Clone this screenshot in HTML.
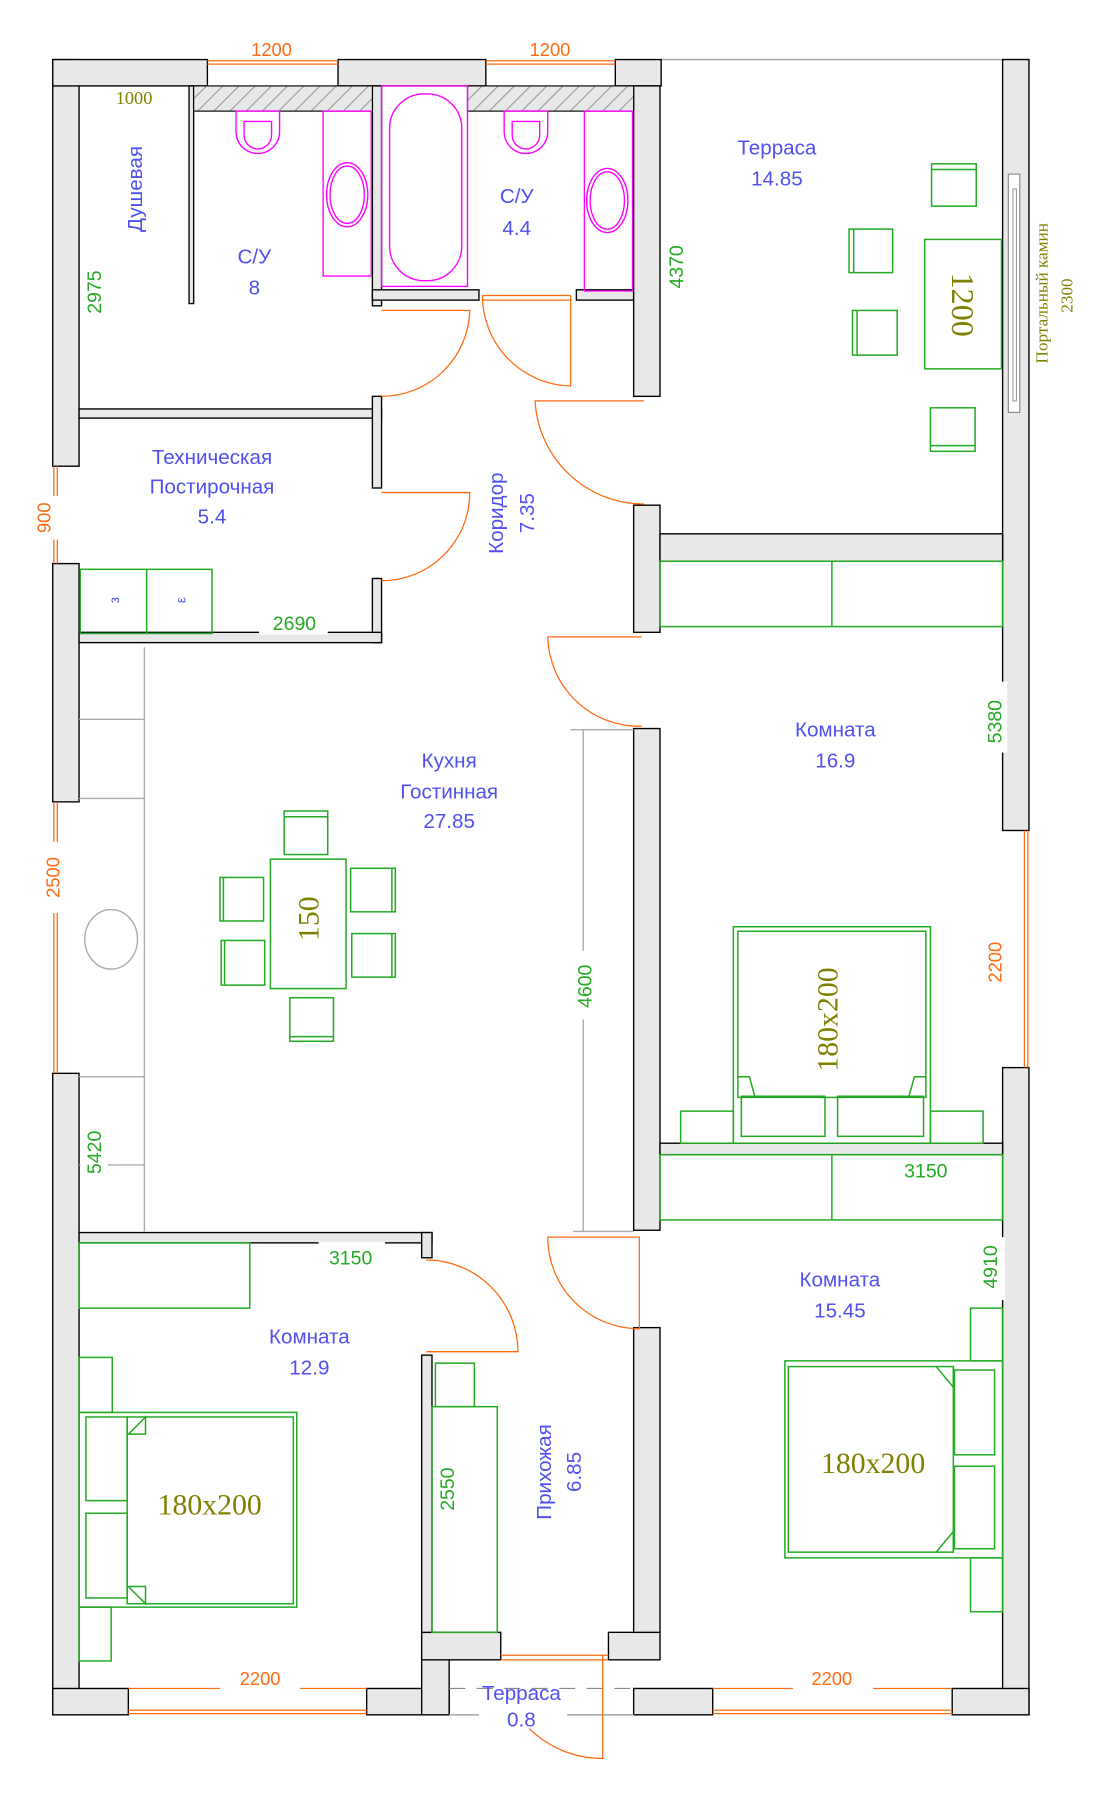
<!DOCTYPE html>
<html><head><meta charset="utf-8"><style>
html,body{margin:0;padding:0;background:#fff;}
svg{display:block;}
.lab{font-family:"Liberation Sans",sans-serif;fill:#5050f0;font-size:18px;text-anchor:middle;}
.g{font-family:"Liberation Sans",sans-serif;fill:#22aa22;font-size:17px;text-anchor:middle;}
.o{font-family:"Liberation Sans",sans-serif;fill:#ff6a10;font-size:16px;text-anchor:middle;}
.ol{font-family:"Liberation Serif",serif;fill:#808000;text-anchor:middle;}
.w{fill:#e8e8e8;stroke:#000;stroke-width:1.2;}
.f{fill:none;stroke:#22aa22;stroke-width:1.3;}
.m{fill:none;stroke:#ff00ff;stroke-width:1.2;}
.d{fill:none;stroke:#ff6a10;stroke-width:1.1;}
</style></head><body>
<svg width="1100" height="1795" viewBox="0 0 960 1567" preserveAspectRatio="none" xmlns="http://www.w3.org/2000/svg">
<defs>
<pattern id="h" width="10" height="10" patternUnits="userSpaceOnUse" patternTransform="rotate(45)">
<rect width="10" height="10" fill="#e8e8e8"/><line x1="0" y1="0" x2="0" y2="10" stroke="#999" stroke-width="2"/></pattern>
</defs>
<line x1="577" y1="52" x2="898" y2="52" stroke="#aaa" stroke-width="1.5"/>
<rect class="w" x="46" y="52" width="23" height="355"/>
<rect class="w" x="46" y="492" width="23" height="208"/>
<rect class="w" x="46" y="937" width="23" height="560"/>
<rect class="w" x="46" y="52" width="135" height="23"/>
<rect class="w" x="295" y="52" width="129" height="23"/>
<rect class="w" x="537" y="52" width="40" height="23"/>
<rect class="w" x="875" y="52" width="23" height="673"/>
<rect class="w" x="875" y="932" width="23" height="565"/>
<rect class="w" x="46" y="1474" width="66" height="23"/>
<rect class="w" x="320" y="1474" width="72" height="23"/>
<rect class="w" x="553" y="1474" width="69" height="23"/>
<rect class="w" x="831" y="1474" width="67" height="23"/>
<rect class="w" x="368" y="1425" width="24" height="72"/>
<rect class="w" x="368" y="1425" width="69" height="24"/>
<rect class="w" x="531" y="1425" width="45" height="24"/>
<g class="d">
<line x1="181" y1="53" x2="295" y2="53"/><line x1="181" y1="56" x2="295" y2="56"/>
<line x1="424" y1="53" x2="537" y2="53"/><line x1="424" y1="56" x2="537" y2="56"/>
<line x1="47" y1="407" x2="47" y2="492"/><line x1="50" y1="407" x2="50" y2="492"/>
<line x1="47" y1="700" x2="47" y2="937"/><line x1="50" y1="700" x2="50" y2="937"/>
<line x1="894" y1="725" x2="894" y2="932"/><line x1="897" y1="725" x2="897" y2="932"/>
<line x1="112" y1="1493" x2="320" y2="1493"/><line x1="112" y1="1496" x2="320" y2="1496"/>
<line x1="622" y1="1493" x2="831" y2="1493"/><line x1="622" y1="1496" x2="831" y2="1496"/>
<line x1="437" y1="1445" x2="531" y2="1445"/><line x1="437" y1="1449" x2="531" y2="1449"/>
</g>
<line x1="112" y1="1474" x2="192" y2="1474" stroke="#ff6a10"/><line x1="262" y1="1474" x2="320" y2="1474" stroke="#ff6a10"/>
<line x1="622" y1="1474" x2="692" y2="1474" stroke="#ff6a10"/><line x1="762" y1="1474" x2="831" y2="1474" stroke="#ff6a10"/>
<line x1="392" y1="1474" x2="553" y2="1474" stroke="#888" stroke-dasharray="14,10"/>
<line x1="392" y1="1497" x2="418" y2="1497" stroke="#aaa" stroke-width="1.5"/><line x1="495" y1="1497" x2="553" y2="1497" stroke="#aaa" stroke-width="1.5"/>
<rect class="w" x="165" y="75" width="4" height="190"/>
<rect class="w" x="325" y="75" width="8" height="192"/>
<rect class="w" x="325" y="253" width="93" height="9"/>
<rect class="w" x="503" y="253" width="50" height="9"/>
<rect class="w" x="69" y="357" width="264" height="8"/>
<rect class="w" x="325" y="346" width="8" height="80"/>
<rect class="w" x="325" y="505" width="8" height="56"/>
<rect class="w" x="69" y="552" width="264" height="9"/>
<rect class="w" x="553" y="75" width="23" height="271"/>
<rect class="w" x="553" y="441" width="23" height="111"/>
<rect class="w" x="576" y="466" width="299" height="24"/>
<rect class="w" x="553" y="636" width="23" height="438"/>
<rect class="w" x="553" y="1159" width="23" height="266"/>
<rect class="w" x="576" y="998" width="299" height="10"/>
<rect class="w" x="69" y="1076" width="308" height="9"/>
<rect class="w" x="368" y="1076" width="9" height="22"/>
<rect class="w" x="368" y="1183" width="9" height="242"/>
<rect x="880" y="152" width="10" height="208" fill="#fff" stroke="#888"/>
<rect x="884" y="165" width="3" height="185" fill="#fff" stroke="#888" stroke-width="0.8"/>
<rect x="169" y="75" width="156" height="22" fill="url(#h)" stroke="#000"/>
<rect x="408" y="75" width="145" height="22" fill="url(#h)" stroke="#000"/>
<g class="m">
<path d="M206 97 v18 a19 19 0 0 0 38 0 v-18 z"/><path d="M213 106 v12 a12 12 0 0 0 24 0 v-12 z"/>
<path d="M440 97 v18 a19 19 0 0 0 38 0 v-18 z"/><path d="M447 106 v12 a12 12 0 0 0 24 0 v-12 z"/>
<rect x="282" y="97" width="42" height="144"/><ellipse cx="303" cy="170" rx="18" ry="28"/><ellipse cx="303" cy="170" rx="15" ry="25"/>
<rect x="510" y="97" width="42" height="157"/><ellipse cx="530" cy="175" rx="18" ry="28"/><ellipse cx="530" cy="175" rx="15" ry="25"/>
<rect x="333" y="75" width="75" height="175"/><rect x="340" y="82" width="63" height="163" rx="30"/>
</g>
<g class="d">
<path d="M333 271 H410 A77 77 0 0 1 333 346"/>
<path d="M498 258 V337 A79 79 0 0 1 421 258"/><line x1="421" y1="258" x2="498" y2="258"/><line x1="421" y1="262" x2="498" y2="262"/>
<path d="M562 350 H467 A95 95 0 0 0 562 440"/>
<path d="M333 430 H410 A77 77 0 0 1 333 507"/>
<path d="M560 556 H478 A80 80 0 0 0 560 634"/>
<path d="M372 1100 A80 80 0 0 1 452 1180 H372"/>
<path d="M558 1080 H478 A80 80 0 0 0 558 1160 Z"/>
<path d="M526 1445 V1535 A90 90 0 0 1 462 1509"/>
</g>
<g stroke="#aaa" fill="none" stroke-width="1.2">
<line x1="126" y1="565" x2="126" y2="1075"/>
<line x1="69" y1="628" x2="126" y2="628"/><line x1="69" y1="697" x2="126" y2="697"/>
<line x1="69" y1="940" x2="126" y2="940"/><line x1="69" y1="1017" x2="126" y2="1017"/>
<ellipse cx="97" cy="820" rx="23" ry="26"/>
<line x1="509" y1="637" x2="509" y2="830"/><line x1="509" y1="890" x2="509" y2="1075"/>
<line x1="498" y1="637" x2="553" y2="637"/><line x1="500" y1="1075" x2="553" y2="1075"/>
</g>
<g class="f">
<rect x="70" y="497" width="115" height="56"/><line x1="128" y1="497" x2="128" y2="553"/>
<rect x="813" y="143" width="39" height="37"/><line x1="813" y1="148" x2="852" y2="148"/>
<rect x="741" y="200" width="38" height="38"/><line x1="745" y1="200" x2="745" y2="238"/>
<rect x="744" y="271" width="39" height="39"/><line x1="748" y1="271" x2="748" y2="310"/>
<rect x="812" y="356" width="39" height="38"/><line x1="812" y1="389" x2="851" y2="389"/>
<rect x="807" y="209" width="67" height="113"/>
<rect x="576" y="490" width="299" height="57"/><line x1="726" y1="490" x2="726" y2="547"/>
<rect x="640" y="809" width="172" height="189"/><rect x="644" y="813" width="164" height="145"/>
<path d="M644 940 l10 0 l5 18 M808 940 l-10 0 l-5 18"/>
<rect x="647" y="957" width="73" height="35"/><rect x="731" y="957" width="75" height="35"/>
<rect x="594" y="970" width="46" height="28"/><rect x="812" y="970" width="46" height="28"/>
<rect x="576" y="1008" width="299" height="57"/><line x1="726" y1="1008" x2="726" y2="1065"/>
<rect x="685" y="1188" width="190" height="172"/><rect x="688" y="1193" width="144" height="162"/>
<path d="M817 1193 l15 18 v-18 M817 1355 l15 -18 v18"/>
<rect x="833" y="1196" width="35" height="74"/><rect x="833" y="1280" width="35" height="72"/>
<rect x="847" y="1142" width="28" height="46"/><rect x="847" y="1360" width="28" height="47"/>
<rect x="69" y="1085" width="149" height="57"/>
<rect x="69" y="1233" width="190" height="170"/><rect x="111" y="1237" width="145" height="163"/>
<path d="M127 1237 l-15 15 h15 z M127 1400 l-15 -15 h15 z"/>
<rect x="75" y="1237" width="36" height="73"/><rect x="75" y="1321" width="36" height="74"/>
<rect x="69" y="1185" width="29" height="48"/><rect x="69" y="1403" width="28" height="47"/>
<rect x="377" y="1228" width="57" height="197"/><rect x="380" y="1190" width="34" height="38"/>
<rect x="236" y="750" width="66" height="113"/>
<rect x="248" y="708" width="38" height="38"/><line x1="248" y1="713" x2="286" y2="713"/>
<rect x="192" y="766" width="38" height="38"/><line x1="195" y1="766" x2="195" y2="804"/>
<rect x="306" y="758" width="39" height="38"/><line x1="342" y1="758" x2="342" y2="796"/>
<rect x="193" y="821" width="38" height="39"/><line x1="196" y1="821" x2="196" y2="860"/>
<rect x="307" y="815" width="38" height="38"/><line x1="342" y1="815" x2="342" y2="853"/>
<rect x="253" y="871" width="38" height="38"/><line x1="253" y1="905" x2="291" y2="905"/>
</g>
<g fill="#fff">
<rect x="70" y="225" width="24" height="60"/><rect x="578" y="200" width="24" height="60"/>
<rect x="226" y="530" width="60" height="24"/><rect x="70" y="975" width="24" height="60"/>
<rect x="857" y="595" width="22" height="62"/><rect x="853" y="1080" width="24" height="55"/>
<rect x="378" y="1268" width="24" height="60"/><rect x="278" y="1084" width="58" height="24"/>
<rect x="775" y="1009" width="65" height="24"/>
<rect x="30" y="433" width="22" height="38"/><rect x="34" y="735" width="22" height="62"/>
<rect x="857" y="810" width="22" height="60"/>
</g>
<text class="o" x="237" y="49">1200</text><text class="o" x="480" y="49">1200</text>
<text class="ol" x="117" y="91" font-size="16">1000</text>
<text class="g" transform="translate(88,255) rotate(-90)">2975</text>
<text class="g" transform="translate(596,233) rotate(-90)">4370</text>
<text class="ol" font-size="15" transform="translate(914,256) rotate(-90)">Портальный камин</text>
<text class="ol" font-size="15" transform="translate(936,258) rotate(-90)">2300</text>
<text class="ol" font-size="28" transform="translate(831,266) rotate(90)">1200</text>
<text class="o" transform="translate(44,452) rotate(-90)">900</text>
<text class="g" x="257" y="550" font-size="18">2690</text>
<text class="o" transform="translate(52,766) rotate(-90)">2500</text>
<text class="g" transform="translate(88,1006) rotate(-90)">5420</text>
<text class="g" transform="translate(516,861) rotate(-90)">4600</text>
<text class="g" transform="translate(874,630) rotate(-90)">5380</text>
<text class="o" transform="translate(874,840) rotate(-90)">2200</text>
<text class="g" transform="translate(870,1106) rotate(-90)">4910</text>
<text class="g" x="306" y="1104" font-size="18">3150</text>
<text class="g" x="808" y="1028" font-size="18">3150</text>
<text class="g" transform="translate(396,1300) rotate(-90)">2550</text>
<text class="o" x="227" y="1471">2200</text><text class="o" x="726" y="1471">2200</text>
<text class="ol" font-size="26" transform="translate(278,802) rotate(-90)">150</text>
<text class="ol" font-size="26" transform="translate(731,890) rotate(-90)">180x200</text>
<text class="ol" font-size="26" x="762" y="1286">180x200</text>
<text class="ol" font-size="26" x="183" y="1322">180x200</text>
<text font-family="Liberation Sans,sans-serif" font-size="12" fill="#5050f0" transform="translate(104,524) rotate(-90)" text-anchor="middle">з</text>
<text font-family="Liberation Sans,sans-serif" font-size="12" fill="#5050f0" transform="translate(162,524) rotate(-90)" text-anchor="middle">ε</text>
<text class="lab" transform="translate(124,165) rotate(-90)">Душевая</text>
<text class="lab" x="222" y="230">С/У</text><text class="lab" x="222" y="257">8</text>
<text class="lab" x="451" y="177">С/У</text><text class="lab" x="451" y="205">4.4</text>
<text class="lab" x="678" y="135">Терраса</text><text class="lab" x="678" y="162">14.85</text>
<text class="lab" x="185" y="405">Техническая</text><text class="lab" x="185" y="431">Постирочная</text><text class="lab" x="185" y="457">5.4</text>
<text class="lab" transform="translate(439,448) rotate(-90)">Коридор</text><text class="lab" transform="translate(466,448) rotate(-90)">7.35</text>
<text class="lab" x="392" y="670">Кухня</text><text class="lab" x="392" y="697">Гостинная</text><text class="lab" x="392" y="723">27.85</text>
<text class="lab" x="729" y="643">Комната</text><text class="lab" x="729" y="670">16.9</text>
<text class="lab" x="733" y="1123">Комната</text><text class="lab" x="733" y="1150">15.45</text>
<text class="lab" x="270" y="1173">Комната</text><text class="lab" x="270" y="1200">12.9</text>
<text class="lab" transform="translate(481,1285) rotate(-90)">Прихожая</text><text class="lab" transform="translate(507,1285) rotate(-90)">6.85</text>
<text class="lab" x="455" y="1484" font-size="17">Терраса</text><text class="lab" x="455" y="1507" font-size="17">0.8</text>
</svg>
</body></html>
